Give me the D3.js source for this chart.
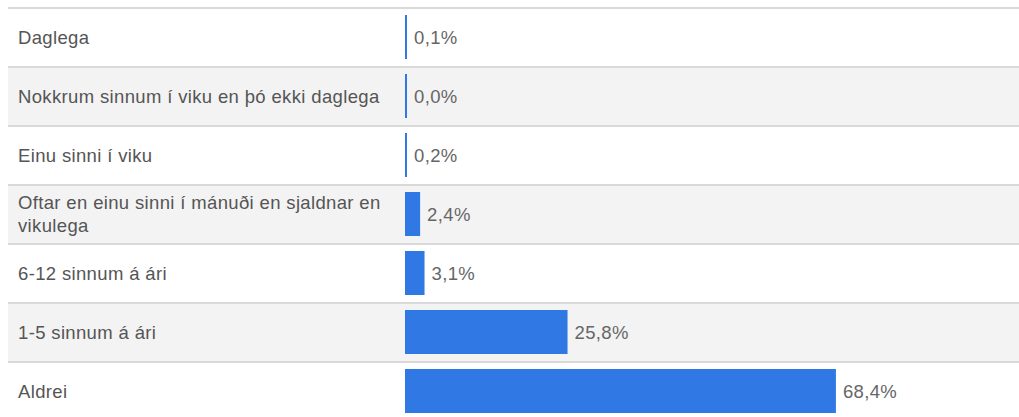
<!DOCTYPE html>
<html>
<head>
<meta charset="utf-8">
<script src="https://cdn.jsdelivr.net/npm/d3@7"></script>
<style>
  body { margin: 0; background: #fff; }
  text { font-family: "Liberation Sans", Arial, sans-serif; letter-spacing: 0.35px; }
</style>
</head>
<body>
<div id="chart"></div>
<script>
// answer options and share of respondents (%)
const categories = [
  "Daglega",
  "Nokkrum sinnum í viku en þó ekki daglega",
  "Einu sinni í viku",
  "Oftar en einu sinni í mánuði en sjaldnar en vikulega",
  "6-12 sinnum á ári",
  "1-5 sinnum á ári",
  "Aldrei"
];
const values = [0.1, 0.0, 0.2, 2.4, 3.1, 25.8, 68.4];

const width = 1019, height = 417;

const svg = d3.select("div#chart")
  .append("svg")
  .attr("width", width)
  .attr("height", height);

const yScale = d3.scaleBand()
  .domain(categories)
  .range([8, 8 + 59 * categories.length])
  .paddingInner(0);

const xScale = d3.scaleLinear()
  .domain([0, 100])
  .range([405, 1035]);

const fmt = v => v.toFixed(1).replace(".", ",") + "%";

// row stripes
svg.selectAll("rect.row")
  .data(categories)
  .enter().append("rect")
  .attr("class", "row")
  .attr("x", 8)
  .attr("y", d => yScale(d))
  .attr("width", width - 8)
  .attr("height", yScale.bandwidth())
  .attr("fill", (d, i) => i % 2 ? "#f3f3f3" : "#ffffff");

// separators
svg.selectAll("line.sep")
  .data(categories)
  .enter().append("line")
  .attr("class", "sep")
  .attr("x1", 8)
  .attr("x2", width)
  .attr("y1", d => yScale(d))
  .attr("y2", d => yScale(d))
  .attr("stroke", "#d9d9d9")
  .attr("stroke-width", 2);

// bars
svg.selectAll("rect.bar")
  .data(categories)
  .enter().append("rect")
  .attr("class", "bar")
  .attr("x", xScale(0))
  .attr("y", d => yScale(d) + 7)
  .attr("width", (d, i) => Math.max(2, xScale(values[i]) - xScale(0)))
  .attr("height", yScale.bandwidth() - 15)
  .attr("fill", "#3079e5");

// value labels
svg.selectAll("text.val")
  .data(categories)
  .enter().append("text")
  .attr("class", "val")
  .attr("x", (d, i) => Math.max(xScale(0) + 2, xScale(values[i])) + 7)
  .attr("y", d => yScale(d) + yScale.bandwidth() / 2 + 6)
  .attr("font-size", 18.5)
  .attr("fill", "#666")
  .text((d, i) => fmt(values[i]));

// category labels, wrapped
const labels = svg.selectAll("text.cat")
  .data(categories)
  .enter().append("text")
  .attr("class", "cat")
  .attr("x", 18)
  .attr("font-size", 18.5)
  .attr("fill", "#555");

labels.each(function(d) {
  const t = d3.select(this);
  const words = d.split(" ");
  const lines = [];
  let line = [];
  const probe = t.append("tspan");
  words.forEach(w => {
    line.push(w);
    probe.text(line.join(" "));
    if (probe.node().getComputedTextLength() > 380 && line.length > 1) {
      line.pop();
      lines.push(line.join(" "));
      line = [w];
    }
  });
  lines.push(line.join(" "));
  probe.remove();
  const lh = 23;
  const cy = yScale(d) + yScale.bandwidth() / 2 + 6 - (lines.length - 1) * lh / 2;
  lines.forEach((l, i) => {
    t.append("tspan").attr("x", 18).attr("y", cy + i * lh).text(l);
  });
});
</script>
</body>
</html>
